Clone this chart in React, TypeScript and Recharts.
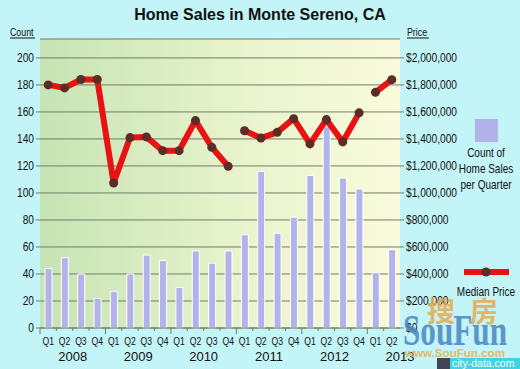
import React from 'react';
import { ComposedChart, Bar, Line, XAxis, YAxis, CartesianGrid } from 'recharts';

// quarters shown on the x axis
const years = ['2008', '2009', '2010', '2011', '2012', '2013'];
const quarters = ['Q1', 'Q2', 'Q3', 'Q4'];
const quarterCount = 22;

// count of home sales per quarter (left axis)
const salesCount = [44, 52, 40, 22, 27, 40, 54, 50, 30, 57, 48, 57, 69, 116, 70, 82, 113, 149, 111, 103, 41, 58];

// median price, drawn as three separate pieces like the original
const price2008to2010 = [1800000, 1778000, 1840000, 1840000, 1074000, 1410000, 1415000, 1313000, 1313000, 1536000, 1338000, 1197000];
const price2011to2012 = [1461000, 1407000, 1449000, 1550000, 1363000, 1543000, 1378000, 1593000];
const price2013 = [1745000, 1839000];

const countTicks = [0, 20, 40, 60, 80, 100, 120, 140, 160, 180, 200];
const priceTicks = [0, 200000, 400000, 600000, 800000, 1000000, 1200000, 1400000, 1600000, 1800000, 2000000];

const chartData = Array.from({ length: quarterCount }, (_, i) => {
  const a = price2008to2010.length;
  const b = a + price2011to2012.length;
  return {
    key: `${years[Math.floor(i / 4)]} ${quarters[i % 4]}`,
    quarter: quarters[i % 4],
    year: years[Math.floor(i / 4)],
    count: salesCount[i],
    priceA: i < a ? price2008to2010[i] : null,
    priceB: i >= a && i < b ? price2011to2012[i - a] : null,
    priceC: i >= b ? price2013[i - b] : null,
  };
});

const FONT = '"Liberation Sans", Arial, sans-serif';
const GRID = '#6f7d6a';
const BAR = '#b3b3ec';
const RED = '#e81212';
const DOT = '#5b2c28';
const BAND = 360 / quarterCount;

const fmtPrice = (v: number) => (v === 0 ? '$0' : '$' + v.toLocaleString('en-US'));

const LeftTick = (props: any) => {
  const { x, y, payload } = props;
  return (
    <text transform={`translate(${x},${y}) scale(0.85,1)`} dy={4} textAnchor="end" fontSize={12} fontFamily={FONT} fill="#111">
      {payload.value}
    </text>
  );
};

const RightTick = (props: any) => {
  const { x, y, payload } = props;
  return (
    <text transform={`translate(${x},${y}) scale(0.85,1)`} dy={4} textAnchor="start" fontSize={12} fontFamily={FONT} fill="#111">
      {fmtPrice(payload.value)}
    </text>
  );
};

const QuarterTick = (props: any) => {
  const { x, y, index } = props;
  const row = chartData[index];
  if (!row) return null;
  const left = x - BAND / 2;
  const isYearStart = row.quarter === 'Q1';
  return (
    <g>
      <line x1={left} x2={left} y1={y} y2={y + (isYearStart ? 6 : 3)} stroke={GRID} />
      <text transform={`translate(${x},${y + 17}) scale(0.75,1)`} textAnchor="middle" fontSize={11.5} fontFamily={FONT} fill="#111">
        {row.quarter}
      </text>
      {row.quarter === 'Q2' && (
        <text x={x + BAND / 2} y={y + 33} textAnchor="middle" fontSize={13} fontFamily={FONT} fill="#111">
          {row.year}
        </text>
      )}
    </g>
  );
};

const Narrow = ({ x, y, children, size = 12.5, sx = 0.8, anchor = 'middle' }: any) => (
  <text transform={`translate(${x},${y}) scale(${sx},1)`} textAnchor={anchor} fontSize={size} fontFamily={FONT} fill="#111">
    {children}
  </text>
);

const App: React.FC = () => {
  const seriesProps = {
    type: 'linear' as const,
    yAxisId: 'price',
    stroke: RED,
    strokeWidth: 6,
    strokeLinejoin: 'round' as const,
    dot: { r: 4.5, fill: DOT, stroke: 'none' },
    activeDot: false,
    connectNulls: false,
    isAnimationActive: false,
  };

  return (
    <div style={{ position: 'absolute', left: 0, top: 0, width: 520, height: 369, background: '#c3f4f7', overflow: 'hidden' }}>
      <ComposedChart width={520} height={369} data={chartData} margin={{ top: 39, right: 0, bottom: 0, left: 0 }}>
        <defs>
          <linearGradient id="plotBg" x1="0" y1="0" x2="1" y2="0">
            <stop offset="0%" stopColor="#c6e4b4" />
            <stop offset="55%" stopColor="#e8f3cc" />
            <stop offset="100%" stopColor="#fafbdc" />
          </linearGradient>
        </defs>
        <CartesianGrid yAxisId="count" vertical={false} stroke={GRID} fill="url(#plotBg)" fillOpacity={1} />
        <XAxis dataKey="key" interval={0} height={41} tickSize={0} tickMargin={0} axisLine={{ stroke: GRID }} tick={<QuarterTick />} />
        <YAxis yAxisId="count" orientation="left" width={40} domain={[0, 214]} ticks={countTicks} axisLine={false}
          tickSize={4} tickMargin={2} tickLine={{ stroke: GRID }} tick={<LeftTick />} />
        <YAxis yAxisId="price" orientation="right" width={120} domain={[0, 2140000]} ticks={priceTicks} axisLine={false}
          tickSize={4} tickMargin={2} tickLine={{ stroke: GRID }} tick={<RightTick />} />
        <Bar yAxisId="count" dataKey="count" barSize={7} fill={BAR} stroke="#ffffff" strokeWidth={1} isAnimationActive={false} />
        <Line {...seriesProps} dataKey="priceA" />
        <Line {...seriesProps} dataKey="priceB" />
        <Line {...seriesProps} dataKey="priceC" />
      </ComposedChart>

      <svg width={520} height={369} style={{ position: 'absolute', left: 0, top: 0, pointerEvents: 'none' }}>
        <text x={260} y={20} textAnchor="middle" fontSize={16} fontWeight="bold" fontFamily={FONT} fill="#111">
          Home Sales in Monte Sereno, CA
        </text>

        <Narrow x={10} y={36} size={11} anchor="start">Count</Narrow>
        <line x1={10} x2={35} y1={38} y2={38} stroke="#111" />
        <Narrow x={407} y={36} size={11} anchor="start">Price</Narrow>
        <line x1={407} x2={429} y1={38} y2={38} stroke="#111" />

        <rect x={475} y={119} width={23} height={23} fill={BAR} />
        <Narrow x={486} y={157}>Count of</Narrow>
        <Narrow x={486} y={173}>Home Sales</Narrow>
        <Narrow x={486} y={189}>per Quarter</Narrow>

        <line x1={464} x2={509} y1={272} y2={272} stroke={RED} strokeWidth={6} />
        <circle cx={486} cy={272} r={4.5} fill={DOT} />
        <Narrow x={486} y={296}>Median Price</Narrow>

        <g opacity={0.85}>
          <text x={427} y={322} fontSize={28} fontWeight="bold" fontFamily='"Noto Sans CJK SC", sans-serif' fill="#e8a94b">搜</text>
          <text x={470} y={322} fontSize={28} fontWeight="bold" fontFamily='"Noto Sans CJK SC", sans-serif' fill="#e8a94b">房</text>
          <text x={403} y={345} fontSize={44} fontWeight="bold" fontFamily='"Liberation Serif", serif' fill="#4a86c0"
            textLength={104} lengthAdjust="spacingAndGlyphs">SouFun</text>
          <text x={405} y={357} fontSize={10} fontWeight="bold" fontFamily={FONT} fill="#e8b050"
            textLength={100} lengthAdjust="spacingAndGlyphs">www.SouFun.com</text>
        </g>
        <rect x={437} y={358} width={13} height={11} fill="#3f4658" />
        <rect x={450} y={358} width={70} height={11} fill="#3fd3e3" />
        <text x={452} y={367} fontSize={10.5} fontFamily={FONT} fill="#ffffff">city-data.com</text>
      </svg>
    </div>
  );
};

export default App;
